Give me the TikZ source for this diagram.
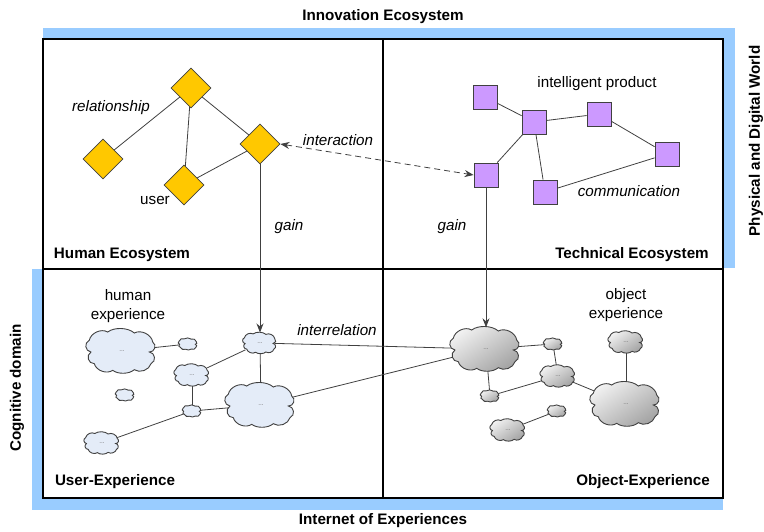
\documentclass[tikz,border=0pt]{standalone}
\usepackage{fontspec}
\setmainfont{Liberation Sans}
\usetikzlibrary{shapes.geometric,arrows.meta}
\definecolor{barblue}{RGB}{153,204,255}
\definecolor{gold}{RGB}{255,200,0}
\definecolor{lilac}{RGB}{204,153,255}
\definecolor{edgegray}{RGB}{64,64,64}
\definecolor{cloudblue}{RGB}{228,236,248}
\newcommand\drawcloud[3]{%
  \path[#3,shift={(#1)},scale=#2]
    (-32.7,-10.7) to[cc] (-14.3,-19) to[ct] (12.3,-18) to[cc] (30.7,-9)
    to[cs] (27.3,1) to[cs] (29,12.7) to[cc] (12.3,18.7) to[ct] (-9.3,19.3)
    to[cc] (-27.7,12.7) to[cs] (-31,1) to[cs] (-32.7,-10.7) -- cycle;}
\begin{document}
\begin{tikzpicture}[x=1pt,y=-1pt,
  every node/.style={font=\fontsize{15.2}{19}\selectfont},
  lbl/.style={inner sep=0pt},
  ital/.style={inner sep=0pt,font=\fontsize{15.2}{19}\selectfont\itshape},
  bld/.style={inner sep=0pt,font=\fontsize{15.2}{19}\selectfont\bfseries},
  dia/.style={diamond,draw=edgegray,fill=gold,line width=0.8pt,minimum width=40pt,minimum height=40pt,inner sep=0pt},
  sq/.style={rectangle,draw=edgegray,fill=lilac,line width=0.8pt,minimum size=24pt,inner sep=0pt},
  cc/.style={bend left=55,looseness=0.95},
  ct/.style={bend left=40,looseness=0.8},
  cs/.style={bend left=75,looseness=1.3},
  cbox/.style={rectangle,inner sep=0pt,minimum width=#1*60pt,minimum height=#1*43pt},
  dots/.style={inner sep=0pt,font=\fontsize{6.5}{6.5}\selectfont,text=gray!85!black},
  ucl/.style={draw=edgegray,line width=0.9pt,fill=cloudblue},
  gcl/.style={draw=edgegray,line width=0.9pt,top color=gray!10,bottom color=gray!72,shading angle=35},
  conn/.style={draw=edgegray,line width=0.8pt},
  arr/.style={conn,-{Stealth[length=9pt,width=7pt]}},
  frame/.style={line width=1.6pt,draw=black}
]
\useasboundingbox (0,0) rectangle (764,531);
% blue bars
\fill[barblue] (43,28) rectangle (735,40);
\fill[barblue] (723,28) rectangle (735,268);
\fill[barblue] (32,269) rectangle (43,510);
\fill[barblue] (32,498) rectangle (723,510);
% frame
\draw[frame] (43,39) rectangle (723,498);
\draw[frame] (383,39) -- (383,498);
\draw[frame] (43,269) -- (723,269);
% outer labels
\node[bld] (tInno) at (383,17) {Innovation Ecosystem};
\node[bld] (tInt) at (383,521) {Internet of Experiences};
\node[bld,rotate=90] (tPhys) at (756,141) {Physical and Digital World};
\node[bld,rotate=90] (tCog) at (17,388) {Cognitive domain};
% quadrant labels
\node[bld] (tHum) at (122,255) {Human Ecosystem};
\node[bld] (tTech) at (632,255) {Technical Ecosystem};
\node[bld] (tUser) at (115,482) {User-Experience};
\node[bld] (tObj) at (643,482) {Object-Experience};
% diamonds
\node[dia] (dT) at (191,88) {};
\node[dia] (dL) at (103,159) {};
\node[dia] (dU) at (184,185) {};
\node[dia] (dR) at (260,144) {};
\draw[conn] (dT) -- (dL);
\draw[conn] (dT) -- (dU);
\draw[conn] (dT) -- (dR);
\draw[conn] (dR) -- (dU);
\node[ital] (tRel) at (111,108) {relationship};
\node[lbl] (tUsr) at (155,200) {user};
% squares
\node[sq] (s1) at (485,97) {};
\node[sq] (s2) at (534,122) {};
\node[sq] (s3) at (599,114) {};
\node[sq] (s4) at (667,154) {};
\node[sq] (s5) at (486,175) {};
\node[sq] (s6) at (545,192) {};
\draw[conn] (s1) -- (s2);
\draw[conn] (s2) -- (s3);
\draw[conn] (s3) -- (s4);
\draw[conn] (s4) -- (s6);
\draw[conn] (s2) -- (s6);
\draw[conn] (s2) -- (s5);
\node[lbl] (tIP) at (597,84) {intelligent product};
\node[ital] (tCom) at (629,191) {communication};
\node[ital] (tInter) at (338,140) {interaction};
\node[ital] (tGainL) at (289,227) {gain};
\node[ital] (tGainR) at (452,227) {gain};
% cloud boxes (user)
\node[cbox=1] (u1) at (122,351) {};
\node[cbox=0.27] (u2) at (188,344) {};
\node[cbox=0.48] (u3) at (260,343) {};
\node[cbox=0.5] (u4) at (192,375) {};
\node[cbox=0.27] (u5) at (125,395) {};
\node[cbox=0.27] (u6) at (192,411) {};
\node[cbox=1] (u7) at (261,405) {};
\node[cbox=0.5] (u8) at (102,443) {};
% cloud boxes (object)
\node[cbox=1] (g1) at (486,349) {};
\node[cbox=0.27] (g2) at (553,344) {};
\node[cbox=0.5] (g3) at (558,376) {};
\node[cbox=0.27] (g4) at (490,396) {};
\node[cbox=0.27] (g5) at (557,411) {};
\node[cbox=0.5] (g6) at (508,430) {};
\node[cbox=0.5] (g7) at (626,342) {};
\node[cbox=1] (g8) at (626,404) {};
% cloud connectors (below the clouds)
\draw[conn] (u1) -- (u2);
\draw[conn] (u3) -- (u4);
\draw[conn] (u3) -- (u7);
\draw[conn] (u4) -- (u6);
\draw[conn] (u6) -- (u7);
\draw[conn] (u6) -- (u8);
\draw[conn] (u3) -- (g1);
\draw[conn] (u7) -- (g1);
\draw[conn] (g1) -- (g2);
\draw[conn] (g2) -- (g3);
\draw[conn] (g1) -- (g4);
\draw[conn] (g4) -- (g3);
\draw[conn] (g3) -- (g8);
\draw[conn] (g7) -- (g8);
\draw[conn] (g5) -- (g6);
% cloud outlines
\drawcloud{u1.center}{1}{ucl}
\drawcloud{u2.center}{0.27}{ucl}
\drawcloud{u3.center}{0.48}{ucl}
\drawcloud{u4.center}{0.5}{ucl}
\drawcloud{u5.center}{0.27}{ucl}
\drawcloud{u6.center}{0.27}{ucl}
\drawcloud{u7.center}{1}{ucl}
\drawcloud{u8.center}{0.5}{ucl}
\drawcloud{g1.center}{1}{gcl}
\drawcloud{g2.center}{0.27}{gcl}
\drawcloud{g3.center}{0.5}{gcl}
\drawcloud{g4.center}{0.27}{gcl}
\drawcloud{g5.center}{0.27}{gcl}
\drawcloud{g6.center}{0.5}{gcl}
\drawcloud{g7.center}{0.5}{gcl}
\drawcloud{g8.center}{1}{gcl}
% dots in clouds
\node[dots] (u1d) at (u1) {...};
\node[dots] (u3d) at (u3) {...};
\node[dots] (u4d) at (u4) {...};
\node[dots] (u7d) at (u7) {...};
\node[dots] (u8d) at (u8) {...};
\node[dots] (g1d) at (g1) {...};
\node[dots] (g3d) at (g3) {...};
\node[dots] (g6d) at (g6) {...};
\node[dots] (g7d) at (g7) {...};
\node[dots] (g8d) at (g8) {...};
\node[lbl,align=center] (tHE) at (128,306) {human\\experience};
\node[lbl,align=center] (tOE) at (626,305) {object\\experience};
\node[ital] (tIrel) at (337,330) {interrelation};
% arrows
\draw[arr] (dR.south) -- (u3.north);
\draw[arr] (s5.south) -- (g1.north);
\draw[conn,dash pattern=on 6pt off 4pt,{Stealth[length=9pt,width=7pt]}-{Stealth[length=9pt,width=7pt]}] (dR.east) -- (s5.west);
\end{tikzpicture}
\end{document}
